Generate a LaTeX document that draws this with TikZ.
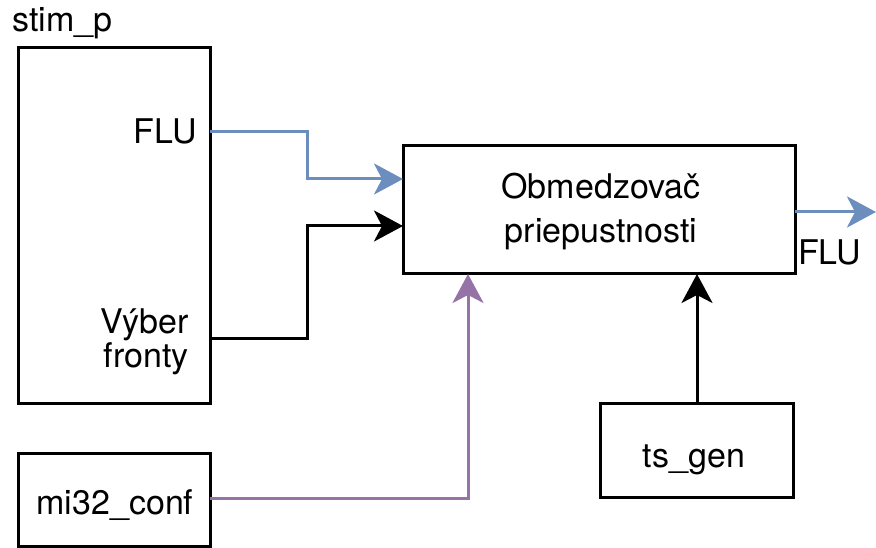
\documentclass[tikz,border=0pt]{standalone}
\usepackage{fontspec}
\setmainfont{TeX Gyre Heros}
\usetikzlibrary{arrows.meta}
\definecolor{flublue}{HTML}{6C8EBF}
\definecolor{confpurple}{HTML}{9673A6}
\tikzset{
  blk/.style={draw=black, line width=3pt, inner sep=0pt, fill=white},
  txt/.style={font=\fontsize{34}{43}\selectfont, inner sep=0pt},
  conn/.style={line width=3pt, -{Stealth[length=29pt, width=31pt, inset=8pt]}}
}
\begin{document}
\begin{tikzpicture}[x=1pt, y=-1pt]
\useasboundingbox (0,0) rectangle (876,548);
% boxes
\node[blk, minimum width=192pt, minimum height=355pt] (stim) at (114,225.5) {};
\node[blk, minimum width=392pt, minimum height=128pt] (obm) at (599,210) {};
\node[blk, minimum width=192pt, minimum height=93pt] (mi) at (114,499.5) {};
\node[blk, minimum width=193pt, minimum height=94pt] (ts) at (696.5,450) {};
% texts
\node[txt, anchor=base west] (stimlbl) at (12,32) {stim\_p};
\node[txt, anchor=base east] (flul) at (197,144) {FLU};
\node[txt, anchor=base east] (vyb1) at (189,333) {Výber};
\node[txt, anchor=base east] (vyb2) at (189,367) {fronty};
\node[txt, anchor=base] (obm1) at (601,199) {Obmedzovač};
\node[txt, anchor=base] (obm2) at (601,243) {priepustnosti};
\node[txt, anchor=base] (mitxt) at (115,514) {mi32\_conf};
\node[txt, anchor=base] (tstxt) at (694,467) {ts\_gen};
\node[txt, anchor=base west] (fluo) at (798,265) {FLU};
% port coordinates
\coordinate (pflu) at (210,132);
\coordinate (pvyb) at (210,338);
\coordinate (pmi) at (210,498);
\coordinate (iflu) at (403,179);
\coordinate (ivyb) at (403,226);
\coordinate (ims) at (468,274);
\coordinate (its) at (697,403);
\coordinate (tsin) at (697,274);
\coordinate (oflu) at (795,212);
\coordinate (oend) at (876,212);
% connectors
\draw[conn, flublue] (pflu) -- (307,132) -- (307,179) -- (iflu);
\draw[conn, black] (pvyb) -- (307,338) -- (307,226) -- (ivyb);
\draw[conn, confpurple] (pmi) -- (468,498) -- (ims);
\draw[conn, black] (its) -- (tsin);
\draw[conn, flublue] (oflu) -- (oend);
\end{tikzpicture}
\end{document}
